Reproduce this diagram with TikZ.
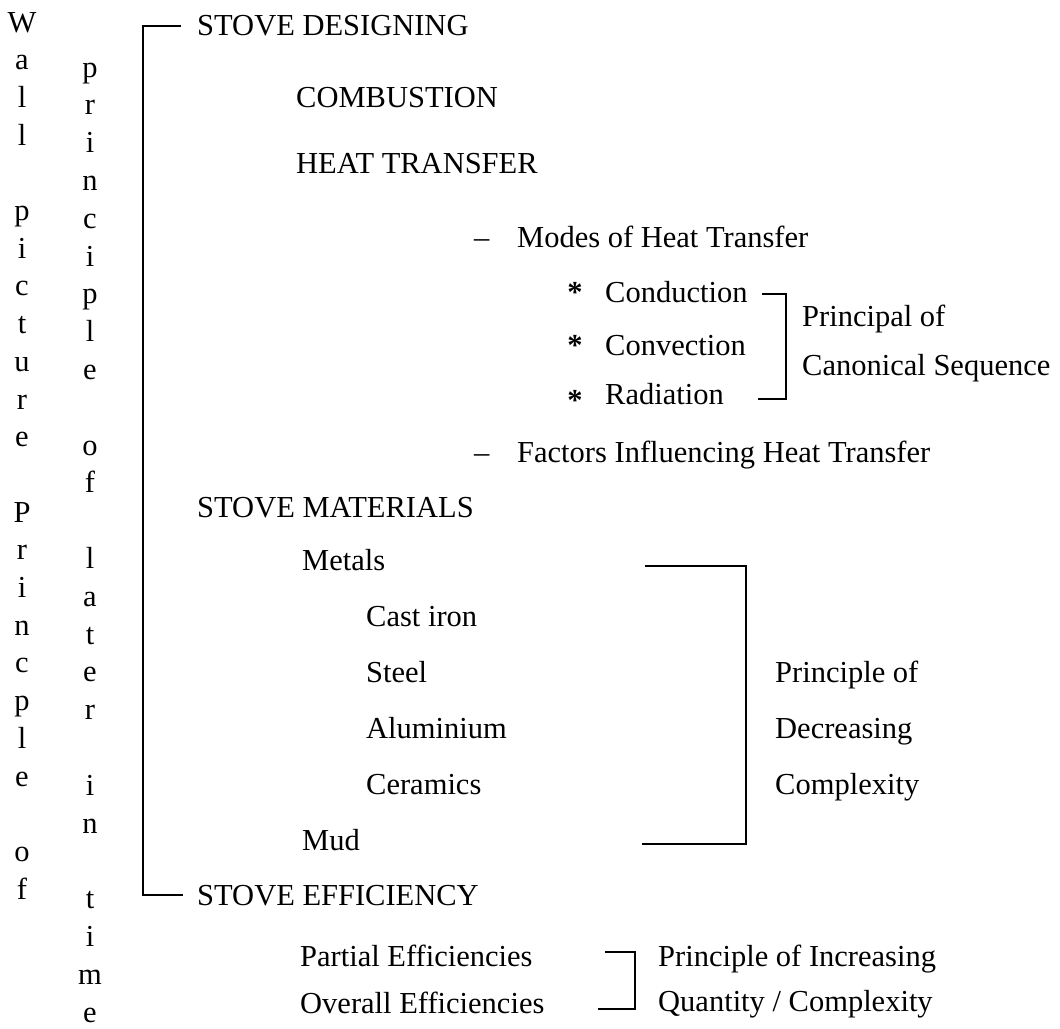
\documentclass[tikz,border=0pt]{standalone}
\usepackage{fontspec}
\setmainfont{Liberation Serif}
\begin{document}
\begin{tikzpicture}[x=1pt,y=-1pt,
  lbl/.style={anchor=base west, inner sep=0pt, font=\fontsize{30.5}{36}\selectfont},
  letter/.style={anchor=base, inner sep=0pt, font=\fontsize{30.5}{36}\selectfont},
  star/.style={anchor=base, inner sep=0pt, font=\fontsize{30.5}{36}\selectfont\bfseries},
  ln/.style={line width=1.5pt}]
\useasboundingbox (0,0) rectangle (1060,1028);
% vertical columns
\foreach \ch/\k in {W/0,a/1,l/2,l/3,p/5,i/6,c/7,t/8,u/9,r/10,e/11,P/13,r/14,i/15,n/16,c/17,p/18,l/19,e/20,o/22,f/23}
  \node[letter] (a\k) at (22,32+37.7*\k) {\ch};
\foreach \ch/\k in {p/0,r/1,i/2,n/3,c/4,i/5,p/6,l/7,e/8,o/10,f/11,l/13,a/14,t/15,e/16,r/17,i/19,n/20,t/22,i/23,m/24,e/25}
  \node[letter] (b\k) at (90,77+37.8*\k) {\ch};
% main entries
\node[lbl] (sd) at (197,35) {STOVE DESIGNING};
\node[lbl] (comb) at (296,107) {COMBUSTION};
\node[lbl] (ht) at (296,173) {HEAT TRANSFER};
\node[lbl] (d1) at (474,247) {–};
\node[lbl] (modes) at (517,247) {Modes of Heat Transfer};
\node[star] (s1) at (575,302) {*};
\node[star] (s2) at (575,355) {*};
\node[star] (s3) at (575,410) {*};
\node[lbl] (cond) at (605,302) {Conduction};
\node[lbl] (conv) at (605,355) {Convection};
\node[lbl] (rad) at (605,404) {Radiation};
\node[lbl] (pc1) at (802,326) {Principal of};
\node[lbl] (pc2) at (802,375) {Canonical Sequence};
\node[lbl] (d2) at (474,462) {–};
\node[lbl] (fac) at (517,462) {Factors Influencing Heat Transfer};
\node[lbl] (sm) at (197,517) {STOVE MATERIALS};
\node[lbl] (met) at (302,570) {Metals};
\node[lbl] (ci) at (366,626) {Cast iron};
\node[lbl] (st) at (366,682) {Steel};
\node[lbl] (al) at (366,738) {Aluminium};
\node[lbl] (ce) at (366,794) {Ceramics};
\node[lbl] (mud) at (302,850) {Mud};
\node[lbl] (p1) at (775,682) {Principle of};
\node[lbl] (p2) at (775,738) {Decreasing};
\node[lbl] (p3) at (775,794) {Complexity};
\node[lbl] (se) at (197,905) {STOVE EFFICIENCY};
\node[lbl] (pe) at (300,966) {Partial Efficiencies};
\node[lbl] (oe) at (300,1013) {Overall Efficiencies};
\node[lbl] (q1) at (658,966) {Principle of Increasing};
\node[lbl] (q2) at (658,1011) {Quantity / Complexity};
% bracket corners
\coordinate (m1) at (181,26);
\coordinate (m2) at (143,26);
\coordinate (m3) at (143,895);
\coordinate (m4) at (183,895);
\coordinate (c1) at (762,294);
\coordinate (c2) at (786,294);
\coordinate (c3) at (786,399);
\coordinate (c4) at (758,399);
\coordinate (k1) at (645,566);
\coordinate (k2) at (746,566);
\coordinate (k3) at (746,844);
\coordinate (k4) at (642,844);
\coordinate (q1a) at (605,952);
\coordinate (q1b) at (635,952);
\coordinate (q1c) at (635,1009);
\coordinate (q1d) at (598,1009);
\draw[ln] (m1) -- (m2) -- (m3) -- (m4);
\draw[ln] (c1) -- (c2) -- (c3) -- (c4);
\draw[ln] (k1) -- (k2) -- (k3) -- (k4);
\draw[ln] (q1a) -- (q1b) -- (q1c) -- (q1d);
\end{tikzpicture}
\end{document}
